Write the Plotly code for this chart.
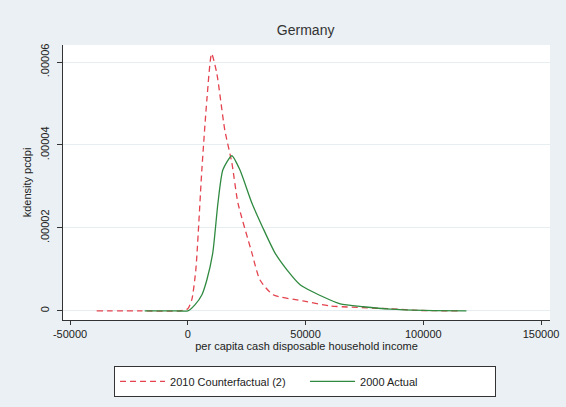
import plotly.graph_objects as go

# 2010 Counterfactual (2) density
cf_x = [-38700, -20000, -3400, 0, 1700, 3400, 5960, 8100, 10100, 12300, 15700, 18700,
        21300, 27200, 30600, 36200, 48900, 60400, 86000, 98700, 115000]
cf_y = [0, 0, 0, 0.0000005, 0.0000027, 0.0000099, 0.000034, 0.000051, 0.0000620, 0.0000573,
        0.0000436, 0.0000357, 0.000026, 0.000014, 0.0000075, 0.0000039, 0.0000024, 0.0000012,
        0.0000005, 0.0000001, 0]

# 2000 Actual density
ac_x = [-18300, -5000, 0, 3000, 6000, 8100, 10600, 12800, 14900, 18700, 22100, 27200,
        31900, 37000, 42100, 47700, 57400, 64700, 74500, 86000, 100000, 118300]
ac_y = [0, 0, 0, 0.00000145, 0.0000039, 0.0000075, 0.000014, 0.000026, 0.000034, 0.0000374,
        0.000034, 0.000026, 0.000020, 0.000014, 0.0000099, 0.0000063, 0.0000034, 0.0000017,
        0.0000010, 0.0000004, 0.0000001, 0]

x_ticks = [-50000, 0, 50000, 100000, 150000]
x_labels = ["-50000", "0", "50000", "100000", "150000"]
y_ticks = [0, 0.00002, 0.00004, 0.00006]
y_labels = ["0", ".00002", ".00004", ".00006"]

BG = "#EAF0F3"
FONT = "Liberation Sans, Arial, sans-serif"

fig = go.Figure()
fig.add_trace(go.Scatter(x=cf_x, y=cf_y, mode="lines", name="2010 Counterfactual (2)",
                         line=dict(color="#E4434F", width=1.3, dash="6px,4px",
                                   shape="spline", smoothing=0.6)))
fig.add_trace(go.Scatter(x=ac_x, y=ac_y, mode="lines", name="2000 Actual",
                         line=dict(color="#2F8A40", width=1.3,
                                   shape="spline", smoothing=0.6)))

fig.update_layout(
    width=566, height=407,
    paper_bgcolor=BG, plot_bgcolor="white",
    margin=dict(l=63, r=16, t=45, b=87, autoexpand=False),
    font=dict(family=FONT, size=11, color="#222"),
    title=dict(text="Germany", x=0.54, xanchor="center", y=0.925, yanchor="middle",
               font=dict(size=14, color="#333")),
    showlegend=True,
    legend=dict(orientation="h", x=0.497, xanchor="center", y=-0.167, yanchor="top",
                bgcolor="white", bordercolor="#333", borderwidth=1,
                font=dict(size=11, color="#222"), entrywidth=130, itemwidth=45,
                traceorder="normal"),
)
fig.update_xaxes(range=[-53000, 153800], tickvals=x_ticks, ticktext=x_labels,
                 automargin=False,
                 showgrid=False, zeroline=False, showline=True, linecolor="#333", linewidth=1,
                 ticks="outside", ticklen=4, tickcolor="#333", ticklabelstandoff=0,
                 title=dict(text="per capita cash disposable household income",
                            standoff=3, font=dict(size=11)))
fig.update_yaxes(range=[-0.0000022, 0.0000641], tickvals=y_ticks, ticktext=y_labels,
                 automargin=False,
                 tickangle=-90, showgrid=True, gridcolor="#E6EEF1", gridwidth=1,
                 zeroline=False, showline=True, linecolor="#333", linewidth=1,
                 ticks="outside", ticklen=5, tickcolor="#333", ticklabelstandoff=4,
                 title=dict(text="kdensity pcdpi", standoff=4, font=dict(size=11)))

fig.write_html("out.html", config={"displayModeBar": False},
               post_script="document.body.style.margin='0';document.body.style.background='" + BG + "';")
